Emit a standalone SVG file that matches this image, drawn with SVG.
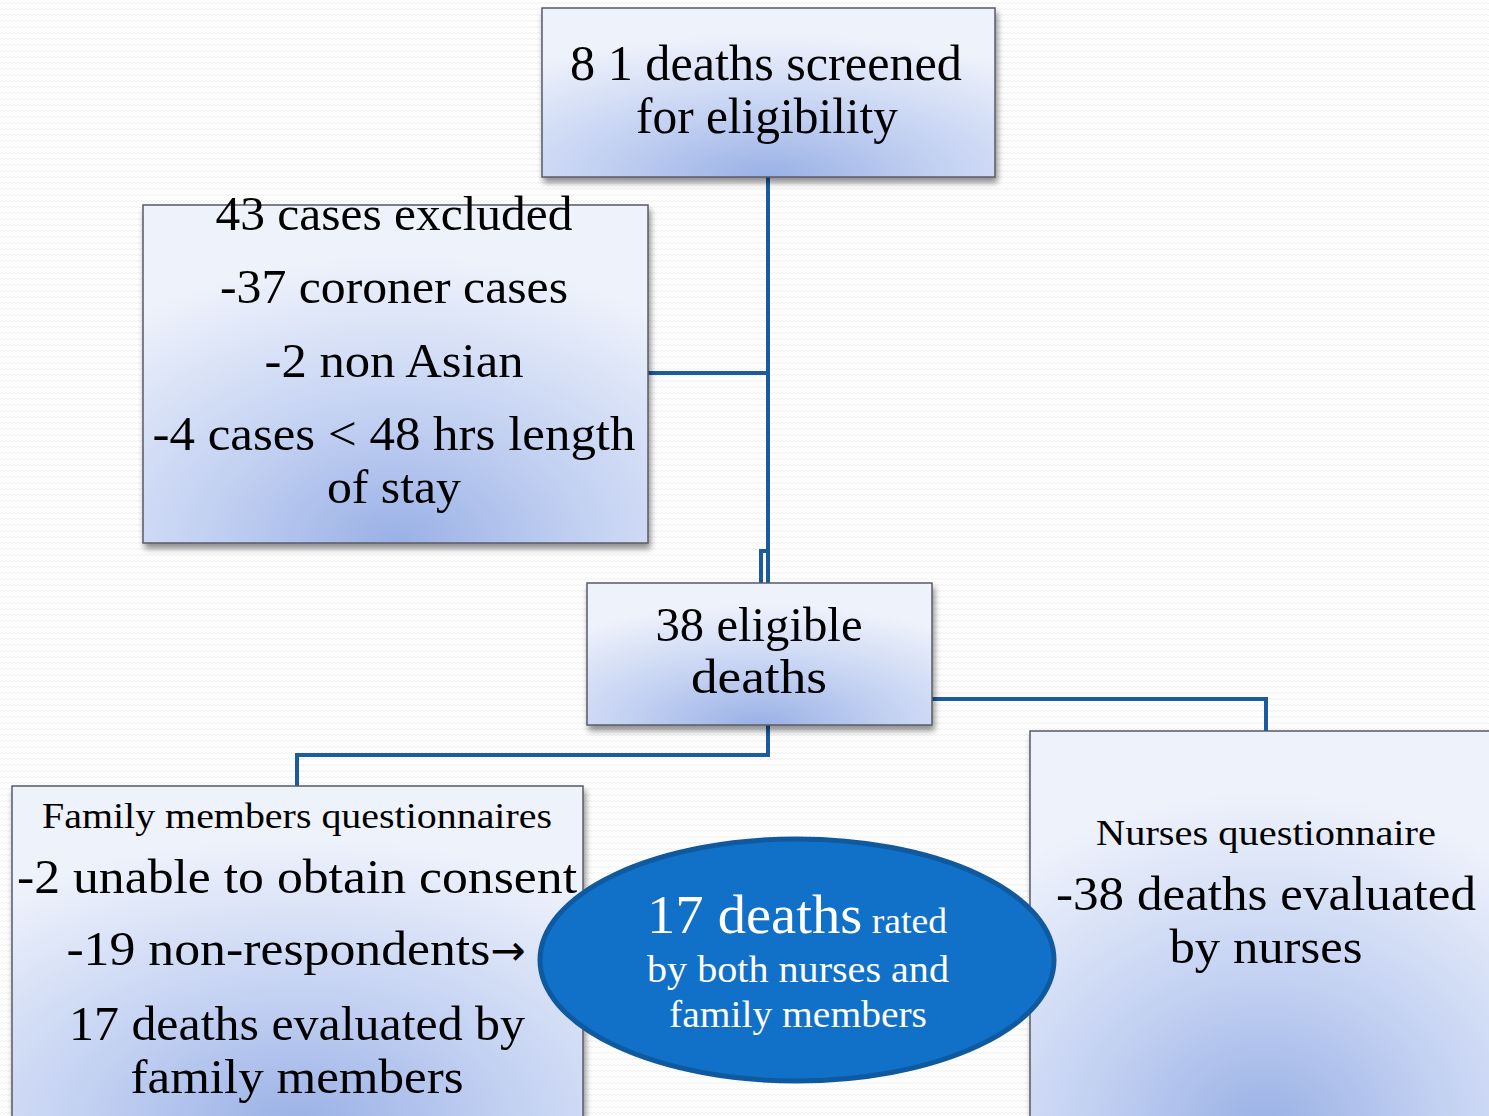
<svg xmlns="http://www.w3.org/2000/svg" width="1489" height="1116" viewBox="0 0 1489 1116">
<defs>
<pattern id="bg" width="8" height="6" patternUnits="userSpaceOnUse">
<rect width="8" height="6" fill="#ffffff"/>
<path d="M0 4 L2 2 L4 4 L6 2 L8 4" fill="none" stroke="#ececec" stroke-width="0.8"/>
</pattern>
<radialGradient id="boxg" cx="50%" cy="100%" r="85%" fx="50%" fy="100%">
<stop offset="0" stop-color="#9AB1E6"/>
<stop offset="0.45" stop-color="#C3D1F2"/>
<stop offset="1" stop-color="#EEF2FB"/>
</radialGradient>
<filter id="sh" x="-10%" y="-10%" width="125%" height="130%">
<feGaussianBlur in="SourceAlpha" stdDeviation="3"/>
<feOffset dx="2" dy="5" result="b"/>
<feComponentTransfer><feFuncA type="linear" slope="0.45"/></feComponentTransfer>
<feMerge><feMergeNode/><feMergeNode in="SourceGraphic"/></feMerge>
</filter>
</defs>
<style>
.box{fill:url(#boxg);stroke:#5a5a66;stroke-width:1.5;filter:url(#sh)}
.t{font-family:"Liberation Serif","DejaVu Serif",serif;fill:#000;text-anchor:middle}
.w{font-family:"Liberation Serif","DejaVu Serif",serif;fill:#fff;text-anchor:middle}
.conn{fill:none;stroke:#1A5C9E;stroke-width:4}
</style>
<rect width="1489" height="1116" fill="url(#bg)"/>

<g id="connectors">
<path class="conn" d="M768 177 V583"/>
<path class="conn" d="M768 551 H761 V583"/>
<path class="conn" d="M648 373 H768"/>
<path class="conn" d="M768 725 V755 H297 V786"/>
<path class="conn" d="M932 699 H1266 V731"/>
</g>

<g id="node-screened">
<rect class="box" x="542" y="8" width="453" height="169"/>
<text class="t" x="766" y="80" font-size="50" textLength="392" lengthAdjust="spacingAndGlyphs">8 1 deaths screened</text>
<text class="t" x="767" y="133" font-size="50" textLength="262" lengthAdjust="spacingAndGlyphs">for eligibility</text>
</g>

<g id="node-excluded">
<rect class="box" x="143" y="205" width="505" height="338"/>
<text class="t" x="394" y="230" font-size="48" textLength="357" lengthAdjust="spacingAndGlyphs">43 cases excluded</text>
<text class="t" x="394" y="303" font-size="48" textLength="348" lengthAdjust="spacingAndGlyphs">-37 coroner cases</text>
<text class="t" x="394" y="377" font-size="48" textLength="259" lengthAdjust="spacingAndGlyphs">-2 non Asian</text>
<text class="t" x="394" y="450" font-size="48" textLength="483" lengthAdjust="spacingAndGlyphs">-4 cases &lt; 48 hrs length</text>
<text class="t" x="394" y="503" font-size="48" textLength="134" lengthAdjust="spacingAndGlyphs">of stay</text>
</g>

<g id="node-eligible">
<rect class="box" x="587" y="583" width="345" height="142"/>
<text class="t" x="759" y="641" font-size="48" textLength="207" lengthAdjust="spacingAndGlyphs">38 eligible</text>
<text class="t" x="759" y="693" font-size="48" textLength="136" lengthAdjust="spacingAndGlyphs">deaths</text>
</g>

<g id="node-family">
<rect class="box" x="12" y="786" width="571" height="340"/>
<text class="t" x="297" y="828" font-size="36" textLength="510" lengthAdjust="spacingAndGlyphs">Family members questionnaires</text>
<text class="t" x="297" y="893" font-size="48" textLength="560" lengthAdjust="spacingAndGlyphs">-2 unable to obtain consent</text>
<text class="t" x="296" y="965" font-size="48"><tspan textLength="424" lengthAdjust="spacingAndGlyphs">-19 non-respondents</tspan><tspan font-family="DejaVu Sans, sans-serif" font-size="42">→</tspan></text>
<text class="t" x="297" y="1040" font-size="48" textLength="456" lengthAdjust="spacingAndGlyphs">17 deaths evaluated by</text>
<text class="t" x="297" y="1093" font-size="48" textLength="333" lengthAdjust="spacingAndGlyphs">family members</text>
</g>

<g id="node-nurses">
<rect class="box" x="1030" y="731" width="470" height="400"/>
<text class="t" x="1266" y="845" font-size="36" textLength="340" lengthAdjust="spacingAndGlyphs">Nurses questionnaire</text>
<text class="t" x="1266" y="910" font-size="48" textLength="420" lengthAdjust="spacingAndGlyphs">-38 deaths evaluated</text>
<text class="t" x="1266" y="963" font-size="48" textLength="193" lengthAdjust="spacingAndGlyphs">by nurses</text>
</g>

<g id="node-both">
<ellipse cx="797" cy="960" rx="257" ry="121" fill="#1170C8" stroke="#0F5A9E" stroke-width="5"/>
<text class="w" x="797" y="933" textLength="300" lengthAdjust="spacingAndGlyphs"><tspan font-size="54">17 deaths</tspan><tspan font-size="36"> rated</tspan></text>
<text class="w" x="798" y="982" font-size="38" textLength="302" lengthAdjust="spacingAndGlyphs">by both nurses and</text>
<text class="w" x="798" y="1027" font-size="38" textLength="258" lengthAdjust="spacingAndGlyphs">family members</text>
</g>
</svg>
